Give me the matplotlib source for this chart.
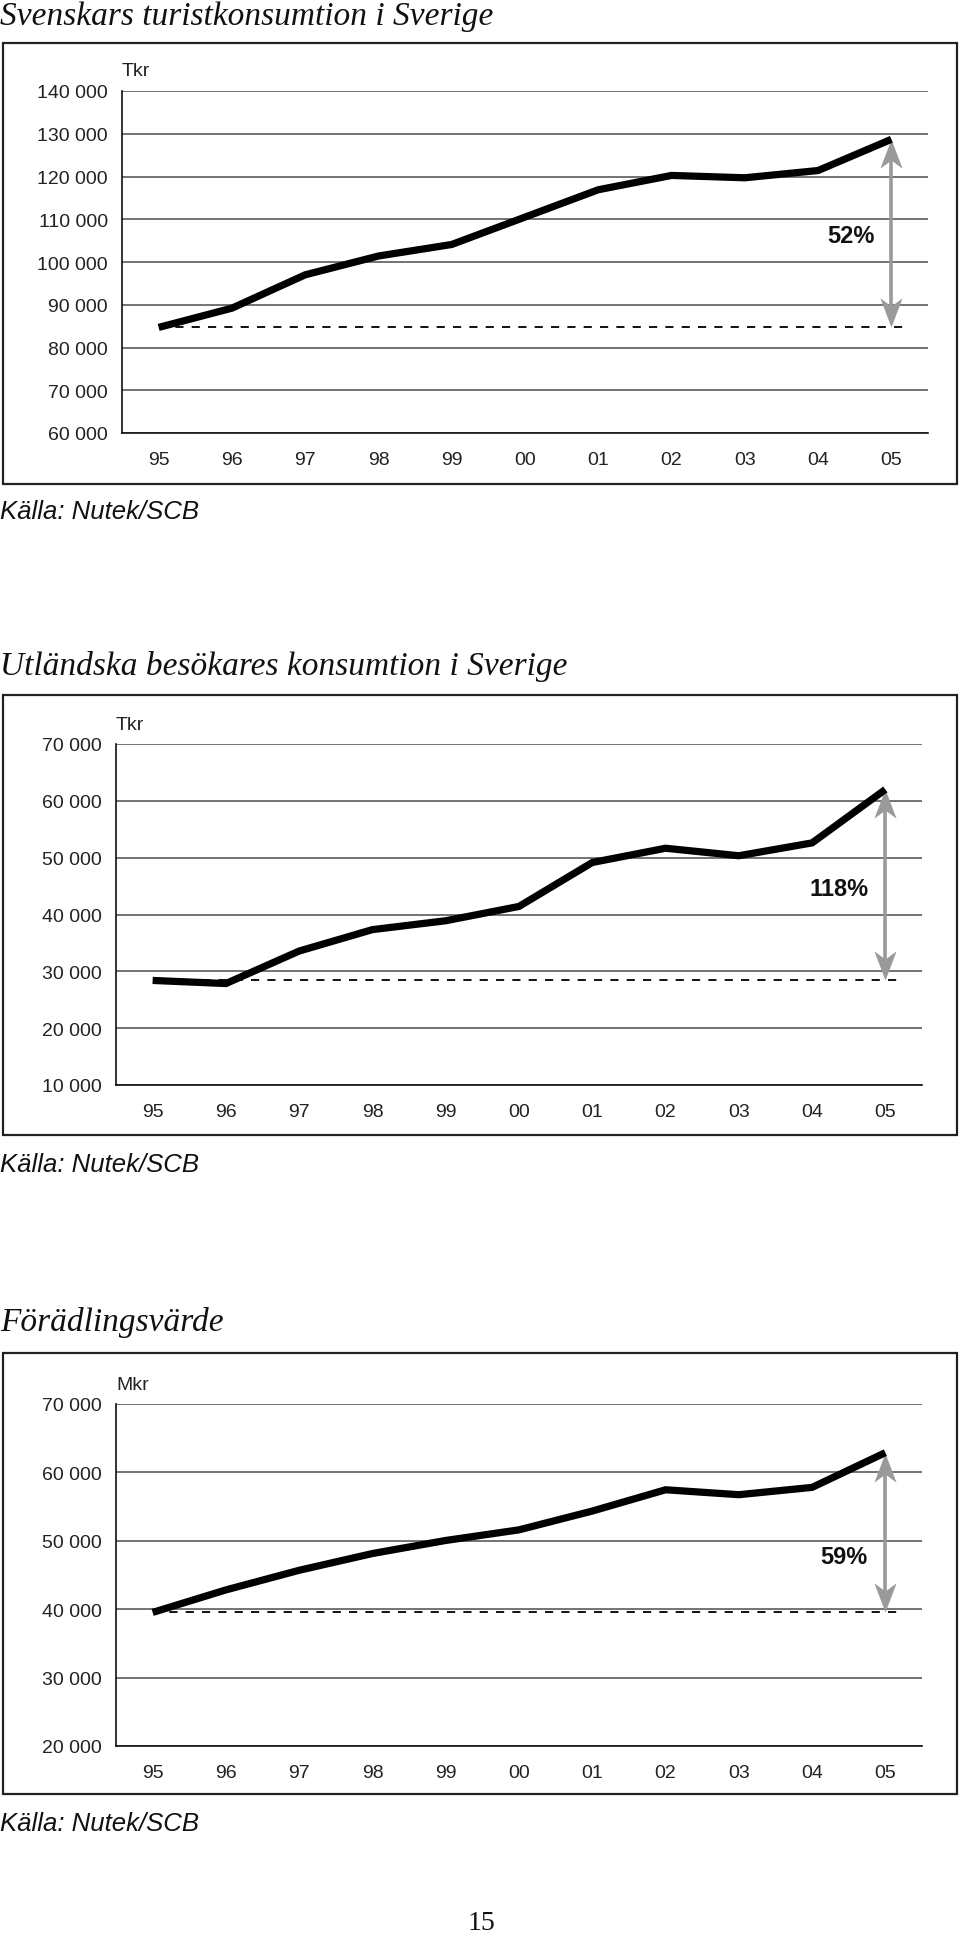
import matplotlib
matplotlib.use("Agg")
import matplotlib.pyplot as plt
from matplotlib.patches import Rectangle
from matplotlib.path import Path
import numpy as np

# ---------------- data ----------------
years = ["95", "96", "97", "98", "99", "00", "01", "02", "03", "04", "05"]

svenskar = [84700, 89200, 97000, 101400, 104100, 110500, 116900, 120250, 119700, 121400, 128700]
utlandska = [28400, 27850, 33570, 37340, 38900, 41420, 49150, 51660, 50340, 52600, 62000]
foradling = [39530, 42820, 45690, 48140, 50050, 51600, 54350, 57460, 56740, 57810, 62890]

titles = ["Svenskars turistkonsumtion i Sverige",
          "Utländska besökares konsumtion i Sverige",
          "Förädlingsvärde"]
units = ["Tkr", "Tkr", "Mkr"]
growth_labels = ["52%", "118%", "59%"]
y_ranges = [(60000, 140000), (10000, 70000), (20000, 70000)]
source = "Källa: Nutek/SCB"
page_number = "15"

# ---------------- layout ----------------
W, H = 960, 1940
fig = plt.figure(figsize=(W / 100, H / 100), dpi=100)
fig.patch.set_facecolor("white")

SANS = ["Liberation Sans", "DejaVu Sans"]
SERIF = ["Liberation Serif", "DejaVu Serif"]


def fx(px):
    return px / W


def fy(py):
    return 1 - py / H


def fmt(v):
    return f"{int(v):,}".replace(",", " ")


# concave arrow heads (tip at the marker origin)
_up = [(0, 0), (-0.38, -1), (0, -0.72), (0.38, -1), (0, 0)]
_codes = [Path.MOVETO, Path.LINETO, Path.LINETO, Path.LINETO, Path.CLOSEPOLY]
HEAD_UP = Path(_up, _codes)
HEAD_DOWN = Path([(vx, -vy) for vx, vy in _up], _codes)

panels = [
    dict(data=svenskar, title_y=17, box=(44, 485), plot=(122, 928, 92, 434),
         unit_xy=(122, 72), label_frac=0.486, label_x=9.45, src_y=512),
    dict(data=utlandska, title_y=666, box=(696, 1136), plot=(116, 922, 745, 1086),
         unit_xy=(116, 726), label_frac=0.48, label_x=9.37, src_y=1165),
    dict(data=foradling, title_y=1323, box=(1354, 1795), plot=(116, 922, 1405, 1747),
         unit_xy=(116, 1385), label_frac=0.347, label_x=9.43, src_y=1824),
]

GRAY = "#9a9a9a"

for i, p in enumerate(panels):
    vals = p["data"]
    ymin, ymax = y_ranges[i]
    l, r, t, b = p["plot"]

    # title
    fig.text(0.0, fy(p["title_y"]), titles[i], fontsize=24, style="italic",
             family=SERIF, ha="left", va="center", color="#111111")

    # frame box
    bt, bb = p["box"]
    fig.patches.append(Rectangle((fx(3), fy(bb)), fx(954), (bb - bt) / H,
                                 transform=fig.transFigure, fill=False,
                                 edgecolor="#222222", lw=1.6, zorder=0))

    ax = fig.add_axes([fx(l), fy(b), fx(r - l), (b - t) / H])
    ax.set_facecolor("none")
    x = np.arange(len(years))
    ax.set_xlim(-0.5, len(years) - 0.5)
    ax.set_ylim(ymin, ymax)

    yt = np.arange(ymin, ymax + 1, 10000)
    ax.set_yticks(yt)
    ax.set_yticklabels([fmt(v) for v in yt], family=SANS, fontsize=14, color="#222222")
    ax.set_xticks(x)
    ax.set_xticklabels(years, family=SANS, fontsize=14, color="#222222")
    ax.tick_params(length=0, axis="y", pad=10)
    ax.tick_params(length=0, axis="x", pad=13)

    for s in ["top", "right"]:
        ax.spines[s].set_visible(False)
    ax.spines["left"].set_color("#111111")
    ax.spines["left"].set_linewidth(1.2)
    ax.spines["bottom"].set_color("#111111")
    ax.spines["bottom"].set_linewidth(1.2)
    ax.yaxis.grid(True, color="#4d4d4d", lw=1.1)
    ax.set_axisbelow(True)

    base = vals[0]
    end = vals[-1]
    # dashed baseline
    ax.plot([0, len(years) - 0.8], [base, base], color="#111111", lw=1.4,
            ls=(0, (4.2, 4.2)), zorder=2)
    # series
    ax.plot(x, vals, color="black", lw=5.2, solid_joinstyle="miter",
            solid_capstyle="butt", zorder=4)
    # growth arrow: shaft + concave heads
    span = end - base
    ax.plot([x[-1], x[-1]], [base + 0.05 * span, end - 0.05 * span], color=GRAY,
            lw=2.6, solid_capstyle="butt", zorder=3)
    ax.plot([x[-1]], [end], marker=HEAD_UP, ms=42, color=GRAY, mec=GRAY,
            mew=0, ls="none", zorder=3)
    ax.plot([x[-1]], [base], marker=HEAD_DOWN, ms=42, color=GRAY, mec=GRAY,
            mew=0, ls="none", zorder=3)
    ax.text(p["label_x"], base + p["label_frac"] * span, growth_labels[i],
            family=SANS, fontsize=17, fontweight="bold", ha="center", va="center",
            color="#111111")

    # unit label
    ux, uy = p["unit_xy"]
    fig.text(fx(ux), fy(uy), units[i], family=SANS, fontsize=14,
             ha="left", va="center", color="#222222")

    # source
    fig.text(0.0, fy(p["src_y"]), source, family=SANS, fontsize=18.5,
             style="italic", ha="left", va="center", color="#111111")

fig.text(fx(481), fy(1924), page_number, family=SERIF, fontsize=20,
         ha="center", va="center", color="#111111")

fig.savefig("out.png", dpi=100, facecolor="white")
